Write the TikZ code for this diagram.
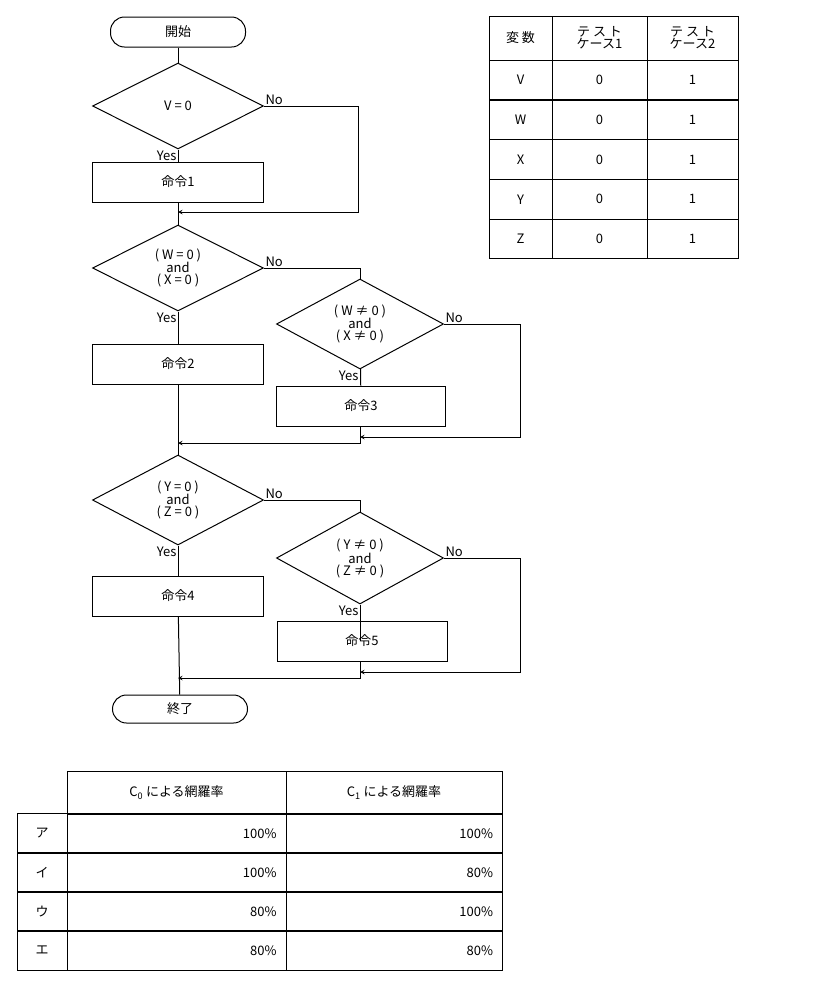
\documentclass[tikz,border=0pt]{standalone}
\usepackage{fontspec}
\setmainfont{Noto Sans CJK JP}
\usetikzlibrary{shapes.geometric,positioning}

\begin{document}
\begin{tikzpicture}[x=1pt,y=-1pt,>=stealth,font=\fontsize{13}{13}\selectfont,line width=1pt]
 \tikzstyle{term} = [draw=black,rounded corners=14pt,minimum width=135pt,minimum height=30pt,inner sep=0]
 \tikzstyle{cmd} = [draw=black,minimum width=171pt,minimum height=40pt,inner sep=0]
 \tikzstyle{cond} = [draw=black,diamond,aspect=2,minimum width=171pt,minimum height=86pt,inner sep=0,align=center,font=\fontsize{13}{12}\selectfont]
 \tikzstyle{lbl} = [inner sep=1pt]
 \tikzstyle{cell} = [draw=black,minimum height=39.5pt,inner sep=0]
 \useasboundingbox (0,0) rectangle (816,986);

% Flow chart
 \node[term] (start) at (178,32) {開始};
 \node[cond] (d1) at (178,106) {V = 0};
 \node[cmd] (c1) at (178,182) {命令1};
 \node[cond] (d2) at (178,268) {( W = 0 )\\and\\( X = 0 )};
 \node[cond,minimum width=167pt,minimum height=90pt] (d3) at (360,324) {( W ≠ 0 )\\and\\( X ≠ 0 )};
 \node[cmd,minimum width=169pt] (c3) at (361,406) {命令3};
 \node[cmd] (c2) at (178,364) {命令2};
 \node[cond,minimum height=90pt] (d4) at (178,500) {( Y = 0 )\\and\\( Z = 0 )};
 \node[cond,minimum width=167pt,minimum height=92pt] (d5) at (360,558) {( Y ≠ 0 )\\and\\( Z ≠ 0 )};
 \node[cmd,minimum width=170pt] (c5) at (362,641) {命令5};
 \node[cmd] (c4) at (178,596) {命令4};
 \node[term,minimum height=28pt] (stop) at (180,709) {終了};

 \coordinate (j1) at (178,212);
 \coordinate (j2) at (360,437);
 \coordinate (j3) at (178,443);
 \coordinate (j4) at (360,672);
 \coordinate (j5) at (178,678);

 \draw (start) -- (d1);
 \draw (d1) -- (c1);
 \draw (c1) -- (d2);
 \draw[->] (d1.east) -- (358,106) -- (358,212) -- (j1);
 \draw (d2) -- (c2);
 \draw (d2.east) -- (360,268) -- (d3.north);
 \draw (d3) -- (c3);
 \draw[->] (d3.east) -- (520,324) -- (520,437) -- (j2);
 \draw[->] (c3.south -| j2) -- (360,443) -- (j3);
 \draw (c2) -- (d4);
 \draw (d4.east) -- (360,500) -- (d5.north);
 \draw (d4) -- (c4);
 \draw (d5) -- (c5 -| d5);
 \draw[->] (d5.east) -- (520,558) -- (520,672) -- (j4);
 \draw[->] (c5.south -| j4) -- (360,678) -- (j5);
 \draw (c4) -- (stop);

% Yes / No
 \foreach \d in {d1,d2,d3,d4,d5} {
  \node[lbl,anchor=north east] at (\d.south) {Yes};
  \node[lbl,anchor=south west] at (\d.east) {No};
 }

% Test cases
 \node[cell,minimum width=63pt,minimum height=44pt] (h0) at (520.5,38) {変 数};
 \node[cell,minimum width=95pt,minimum height=44pt,align=center,font=\fontsize{13}{12}\selectfont] (h1) at (599.5,38) {テ ス ト\\ケース1};
 \node[cell,minimum width=91pt,minimum height=44pt,align=center,font=\fontsize{13}{12}\selectfont] (h2) at (692.5,38) {テ ス ト\\ケース2};
 \foreach \v [count=\i] in {V,W,X,Y,Z} {
  \node[cell,minimum width=63pt] (v\i) at (520.5,{40.5+39.7*\i}) {\v};
  \node[cell,minimum width=95pt] (t\i) at (599.5,{40.5+39.7*\i}) {0};
  \node[cell,minimum width=91pt] (u\i) at (692.5,{40.5+39.7*\i}) {1};
 }

% Coverage answers
 \node[cell,minimum width=219pt,minimum height=43pt] (k0) at (176.5,792.5) {C\textsubscript{0} による網羅率};
 \node[cell,minimum width=216pt,minimum height=43pt] (k1) at (394,792.5) {C\textsubscript{1} による網羅率};
 \foreach \k/\a/\b [count=\i] in {ア/100\%/100\%,イ/100\%/80\%,ウ/80\%/100\%,エ/80\%/80\%} {
  \node[cell,minimum width=50pt] (r\i) at (42,{794.5+39*\i}) {\k};
  \node[cell,minimum width=219pt,text width=200pt,align=right] (a\i) at (176.5,{794.5+39*\i}) {\a\hspace*{24pt}};
  \node[cell,minimum width=216pt,text width=198pt,align=right] (b\i) at (394,{794.5+39*\i}) {\b\hspace*{20pt}};
 }
\end{tikzpicture}
\end{document}
